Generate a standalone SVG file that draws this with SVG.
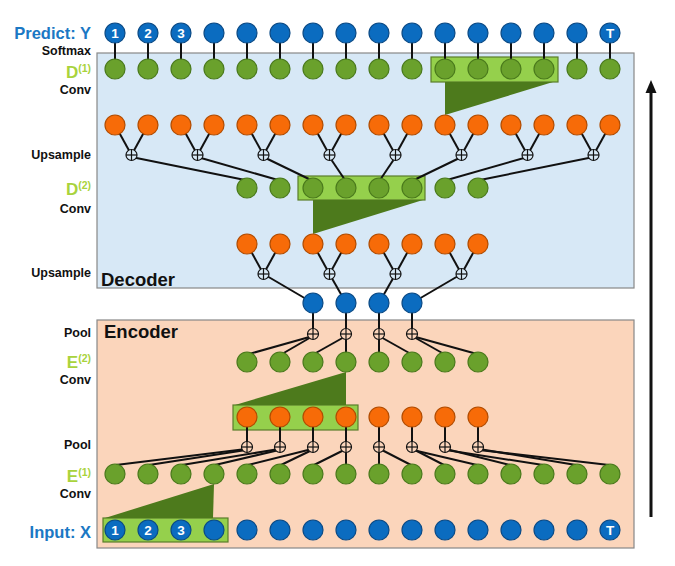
<svg xmlns="http://www.w3.org/2000/svg" width="675" height="566" viewBox="0 0 675 566">
<style>
text{font-family:"Liberation Sans",Arial,sans-serif;font-weight:bold}
.lbl{font-size:12.5px;fill:#111;text-anchor:end}
.io{font-size:16.5px;fill:#1b78c4;text-anchor:end}
.lay{font-size:17px;fill:#a9d33c;text-anchor:end}
.sup{font-size:10.5px}
.title{font-size:18.5px;fill:#111}
.num{font-size:13.5px;fill:#fff;text-anchor:middle}
.b{fill:#0b6cc0;stroke:#0a4a86;stroke-width:1.2}
.g{fill:#6aa12c;stroke:#4a7a1c;stroke-width:1.2}
.o{fill:#f76b08;stroke:#b24c00;stroke-width:1.2}
.pd{fill:#d8e9f6;stroke:#111;stroke-width:1.2}
.pe{fill:#fbd5bb;stroke:#111;stroke-width:1.2}
.box{fill:#95d04c;stroke:#5a7d2a;stroke-width:1.2}
.tri{fill:#4d7a1c}
#connectors line{stroke:#111;stroke-width:2}
</style>
<defs>
<g id="plus"><line x1="-5.5" y1="0" x2="5.5" y2="0" stroke="#111" stroke-width="1.2"/><line x1="0" y1="-5.5" x2="0" y2="5.5" stroke="#111" stroke-width="1.2"/></g>
</defs>

<!-- panels -->
<rect id="decoder-panel" x="97" y="53" width="537" height="235" fill="#d7e8f6" stroke="#888" stroke-width="1.2"/>
<rect id="encoder-panel" x="97" y="320" width="537" height="228" fill="#fbd5bb" stroke="#888" stroke-width="1.2"/>
<text class="title" x="101" y="286">Decoder</text>
<text class="title" x="104" y="338">Encoder</text>

<!-- labels -->
<text class="io" x="91" y="39">Predict: Y</text>
<text class="lbl" x="91" y="55">Softmax</text>
<text class="lay" x="91" y="78">D<tspan class="sup" dy="-6">(1)</tspan></text>
<text class="lbl" x="91" y="94">Conv</text>
<text class="lbl" x="91" y="159">Upsample</text>
<text class="lay" x="91" y="195">D<tspan class="sup" dy="-6">(2)</tspan></text>
<text class="lbl" x="91" y="213">Conv</text>
<text class="lbl" x="91" y="277">Upsample</text>
<text class="lbl" x="91" y="337">Pool</text>
<text class="lay" x="91" y="368">E<tspan class="sup" dy="-6">(2)</tspan></text>
<text class="lbl" x="91" y="384">Conv</text>
<text class="lbl" x="91" y="449">Pool</text>
<text class="lay" x="91" y="482">E<tspan class="sup" dy="-6">(1)</tspan></text>
<text class="lbl" x="91" y="498">Conv</text>
<text class="io" x="91" y="538">Input: X</text>

<!-- conv windows -->
<g id="conv-d1"><rect class="box" x="431" y="57" width="127" height="25"/><polygon class="tri" points="445,82 553,82 445,115"/></g>
<g id="conv-d2"><rect class="box" x="298" y="176" width="127" height="24"/><polygon class="tri" points="313,200 423,200 313,234"/></g>
<g id="conv-e2"><rect class="box" x="233" y="405" width="125" height="25"/><polygon class="tri" points="235,405 346,405 346,372"/></g>
<g id="conv-e1"><rect class="box" x="103" y="518" width="125" height="24"/><polygon class="tri" points="105,518 213,518 214,484"/></g>

<!-- arrow -->
<g id="arrow"><line x1="651" y1="517" x2="651" y2="92" stroke="#111" stroke-width="3"/><polygon points="651,80 645.5,93 656.5,93" fill="#111"/></g>

<g id="connectors">
<!-- Y - D1 -->
<line x1="115" y1="33" x2="115" y2="69"/><line x1="148" y1="33" x2="148" y2="69"/><line x1="181" y1="33" x2="181" y2="69"/><line x1="214" y1="33" x2="214" y2="69"/>
<line x1="247" y1="33" x2="247" y2="69"/><line x1="280" y1="33" x2="280" y2="69"/><line x1="313" y1="33" x2="313" y2="69"/><line x1="346" y1="33" x2="346" y2="69"/>
<line x1="379" y1="33" x2="379" y2="69"/><line x1="412" y1="33" x2="412" y2="69"/><line x1="445" y1="33" x2="445" y2="69"/><line x1="478" y1="33" x2="478" y2="69"/>
<line x1="511" y1="33" x2="511" y2="69"/><line x1="544" y1="33" x2="544" y2="69"/><line x1="577" y1="33" x2="577" y2="69"/><line x1="610" y1="33" x2="610" y2="69"/>
<!-- O1 - P1 -->
<line x1="115" y1="125" x2="131.5" y2="155"/><line x1="148" y1="125" x2="131.5" y2="155"/>
<line x1="181" y1="125" x2="197.5" y2="155"/><line x1="214" y1="125" x2="197.5" y2="155"/>
<line x1="247" y1="125" x2="263.5" y2="155"/><line x1="280" y1="125" x2="263.5" y2="155"/>
<line x1="313" y1="125" x2="329.5" y2="155"/><line x1="346" y1="125" x2="329.5" y2="155"/>
<line x1="379" y1="125" x2="395.5" y2="155"/><line x1="412" y1="125" x2="395.5" y2="155"/>
<line x1="445" y1="125" x2="461.5" y2="155"/><line x1="478" y1="125" x2="461.5" y2="155"/>
<line x1="511" y1="125" x2="527.5" y2="155"/><line x1="544" y1="125" x2="527.5" y2="155"/>
<line x1="577" y1="125" x2="593.5" y2="155"/><line x1="610" y1="125" x2="593.5" y2="155"/>
<!-- P1 - D2 -->
<line x1="131.5" y1="157" x2="245" y2="180"/><line x1="197.5" y1="157" x2="278" y2="180"/>
<line x1="263.5" y1="157" x2="311" y2="180"/><line x1="329.5" y1="157" x2="345" y2="180"/>
<line x1="395.5" y1="157" x2="380" y2="180"/><line x1="461.5" y1="157" x2="414" y2="180"/>
<line x1="527.5" y1="157" x2="447" y2="180"/><line x1="593.5" y1="157" x2="480" y2="180"/>
<!-- O2 - P2 -->
<line x1="247" y1="244" x2="263.5" y2="274"/><line x1="280" y1="244" x2="263.5" y2="274"/>
<line x1="313" y1="244" x2="329.5" y2="274"/><line x1="346" y1="244" x2="329.5" y2="274"/>
<line x1="379" y1="244" x2="395.5" y2="274"/><line x1="412" y1="244" x2="395.5" y2="274"/>
<line x1="445" y1="244" x2="461.5" y2="274"/><line x1="478" y1="244" x2="461.5" y2="274"/>
<!-- P2 - B -->
<line x1="263.5" y1="274" x2="313" y2="303"/><line x1="329.5" y1="274" x2="346" y2="303"/>
<line x1="395.5" y1="274" x2="379" y2="303"/><line x1="461.5" y1="274" x2="412" y2="303"/>
<!-- B - Q2 -->
<line x1="313" y1="303" x2="313" y2="334"/><line x1="346" y1="303" x2="346" y2="334"/>
<line x1="379" y1="303" x2="379" y2="334"/><line x1="412" y1="303" x2="412" y2="334"/>
<!-- Q2 - E2 -->
<line x1="313" y1="336" x2="249" y2="354"/><line x1="313" y1="336" x2="282" y2="354"/>
<line x1="346" y1="336" x2="314" y2="354"/><line x1="346" y1="334" x2="346" y2="362"/>
<line x1="379" y1="334" x2="379" y2="362"/><line x1="379" y1="336" x2="411" y2="354"/>
<line x1="412" y1="336" x2="444" y2="354"/><line x1="412" y1="336" x2="477" y2="354"/>
<!-- O3 - Q1 -->
<line x1="247" y1="417" x2="247" y2="447"/><line x1="280" y1="417" x2="280" y2="447"/>
<line x1="313" y1="417" x2="313" y2="447"/><line x1="346" y1="417" x2="346" y2="447"/>
<line x1="379" y1="417" x2="379" y2="447"/><line x1="412" y1="417" x2="412" y2="447"/>
<line x1="445" y1="417" x2="445" y2="447"/><line x1="478" y1="417" x2="478" y2="447"/>
<!-- Q1 - E1 -->
<line x1="246" y1="449" x2="116" y2="465"/><line x1="246" y1="450" x2="149" y2="465"/>
<line x1="279" y1="449" x2="182" y2="465"/><line x1="279" y1="450" x2="215" y2="465"/>
<line x1="312" y1="449" x2="248" y2="465"/><line x1="312" y1="450" x2="281" y2="465"/>
<line x1="346" y1="449" x2="314" y2="465"/><line x1="346" y1="447" x2="346" y2="474"/>
<line x1="379" y1="447" x2="379" y2="474"/><line x1="380" y1="449" x2="411" y2="465"/>
<line x1="413" y1="449" x2="444" y2="465"/><line x1="413" y1="450" x2="477" y2="465"/>
<line x1="446" y1="449" x2="510" y2="465"/><line x1="446" y1="450" x2="543" y2="465"/>
<line x1="479" y1="449" x2="576" y2="465"/><line x1="479" y1="450" x2="609" y2="465"/>
</g>

<!-- Predict row -->
<g id="y1"><circle class="b" cx="115" cy="33" r="10"/><text class="num" x="115" y="38">1</text></g>
<g id="y2"><circle class="b" cx="148" cy="33" r="10"/><text class="num" x="148" y="38">2</text></g>
<g id="y3"><circle class="b" cx="181" cy="33" r="10"/><text class="num" x="181" y="38">3</text></g>
<g id="y4"><circle class="b" cx="214" cy="33" r="10"/></g>
<g id="y5"><circle class="b" cx="247" cy="33" r="10"/></g>
<g id="y6"><circle class="b" cx="280" cy="33" r="10"/></g>
<g id="y7"><circle class="b" cx="313" cy="33" r="10"/></g>
<g id="y8"><circle class="b" cx="346" cy="33" r="10"/></g>
<g id="y9"><circle class="b" cx="379" cy="33" r="10"/></g>
<g id="y10"><circle class="b" cx="412" cy="33" r="10"/></g>
<g id="y11"><circle class="b" cx="445" cy="33" r="10"/></g>
<g id="y12"><circle class="b" cx="478" cy="33" r="10"/></g>
<g id="y13"><circle class="b" cx="511" cy="33" r="10"/></g>
<g id="y14"><circle class="b" cx="544" cy="33" r="10"/></g>
<g id="y15"><circle class="b" cx="577" cy="33" r="10"/></g>
<g id="yT"><circle class="b" cx="610" cy="33" r="10"/><text class="num" x="610" y="38">T</text></g>

<!-- D1 row -->
<g id="d1-1"><circle class="g" cx="115" cy="69" r="10"/></g>
<g id="d1-2"><circle class="g" cx="148" cy="69" r="10"/></g>
<g id="d1-3"><circle class="g" cx="181" cy="69" r="10"/></g>
<g id="d1-4"><circle class="g" cx="214" cy="69" r="10"/></g>
<g id="d1-5"><circle class="g" cx="247" cy="69" r="10"/></g>
<g id="d1-6"><circle class="g" cx="280" cy="69" r="10"/></g>
<g id="d1-7"><circle class="g" cx="313" cy="69" r="10"/></g>
<g id="d1-8"><circle class="g" cx="346" cy="69" r="10"/></g>
<g id="d1-9"><circle class="g" cx="379" cy="69" r="10"/></g>
<g id="d1-10"><circle class="g" cx="412" cy="69" r="10"/></g>
<g id="d1-11"><circle class="g" cx="445" cy="69" r="10"/></g>
<g id="d1-12"><circle class="g" cx="478" cy="69" r="10"/></g>
<g id="d1-13"><circle class="g" cx="511" cy="69" r="10"/></g>
<g id="d1-14"><circle class="g" cx="544" cy="69" r="10"/></g>
<g id="d1-15"><circle class="g" cx="577" cy="69" r="10"/></g>
<g id="d1-16"><circle class="g" cx="610" cy="69" r="10"/></g>

<!-- Upsample 1 orange -->
<g id="u1-1"><circle class="o" cx="115" cy="125" r="10"/></g>
<g id="u1-2"><circle class="o" cx="148" cy="125" r="10"/></g>
<g id="u1-3"><circle class="o" cx="181" cy="125" r="10"/></g>
<g id="u1-4"><circle class="o" cx="214" cy="125" r="10"/></g>
<g id="u1-5"><circle class="o" cx="247" cy="125" r="10"/></g>
<g id="u1-6"><circle class="o" cx="280" cy="125" r="10"/></g>
<g id="u1-7"><circle class="o" cx="313" cy="125" r="10"/></g>
<g id="u1-8"><circle class="o" cx="346" cy="125" r="10"/></g>
<g id="u1-9"><circle class="o" cx="379" cy="125" r="10"/></g>
<g id="u1-10"><circle class="o" cx="412" cy="125" r="10"/></g>
<g id="u1-11"><circle class="o" cx="445" cy="125" r="10"/></g>
<g id="u1-12"><circle class="o" cx="478" cy="125" r="10"/></g>
<g id="u1-13"><circle class="o" cx="511" cy="125" r="10"/></g>
<g id="u1-14"><circle class="o" cx="544" cy="125" r="10"/></g>
<g id="u1-15"><circle class="o" cx="577" cy="125" r="10"/></g>
<g id="u1-16"><circle class="o" cx="610" cy="125" r="10"/></g>

<!-- Upsample 1 plus -->
<g id="p1-1"><circle class="pd" cx="131.5" cy="155" r="5.5"/><use href="#plus" x="131.5" y="155"/></g>
<g id="p1-2"><circle class="pd" cx="197.5" cy="155" r="5.5"/><use href="#plus" x="197.5" y="155"/></g>
<g id="p1-3"><circle class="pd" cx="263.5" cy="155" r="5.5"/><use href="#plus" x="263.5" y="155"/></g>
<g id="p1-4"><circle class="pd" cx="329.5" cy="155" r="5.5"/><use href="#plus" x="329.5" y="155"/></g>
<g id="p1-5"><circle class="pd" cx="395.5" cy="155" r="5.5"/><use href="#plus" x="395.5" y="155"/></g>
<g id="p1-6"><circle class="pd" cx="461.5" cy="155" r="5.5"/><use href="#plus" x="461.5" y="155"/></g>
<g id="p1-7"><circle class="pd" cx="527.5" cy="155" r="5.5"/><use href="#plus" x="527.5" y="155"/></g>
<g id="p1-8"><circle class="pd" cx="593.5" cy="155" r="5.5"/><use href="#plus" x="593.5" y="155"/></g>

<!-- D2 row -->
<g id="d2-1"><circle class="g" cx="247" cy="188" r="10"/></g>
<g id="d2-2"><circle class="g" cx="280" cy="188" r="10"/></g>
<g id="d2-3"><circle class="g" cx="313" cy="188" r="10"/></g>
<g id="d2-4"><circle class="g" cx="346" cy="188" r="10"/></g>
<g id="d2-5"><circle class="g" cx="379" cy="188" r="10"/></g>
<g id="d2-6"><circle class="g" cx="412" cy="188" r="10"/></g>
<g id="d2-7"><circle class="g" cx="445" cy="188" r="10"/></g>
<g id="d2-8"><circle class="g" cx="478" cy="188" r="10"/></g>

<!-- Upsample 2 orange -->
<g id="u2-1"><circle class="o" cx="247" cy="244" r="10"/></g>
<g id="u2-2"><circle class="o" cx="280" cy="244" r="10"/></g>
<g id="u2-3"><circle class="o" cx="313" cy="244" r="10"/></g>
<g id="u2-4"><circle class="o" cx="346" cy="244" r="10"/></g>
<g id="u2-5"><circle class="o" cx="379" cy="244" r="10"/></g>
<g id="u2-6"><circle class="o" cx="412" cy="244" r="10"/></g>
<g id="u2-7"><circle class="o" cx="445" cy="244" r="10"/></g>
<g id="u2-8"><circle class="o" cx="478" cy="244" r="10"/></g>

<g id="p2-1"><circle class="pd" cx="263.5" cy="274" r="5.5"/><use href="#plus" x="263.5" y="274"/></g>
<g id="p2-2"><circle class="pd" cx="329.5" cy="274" r="5.5"/><use href="#plus" x="329.5" y="274"/></g>
<g id="p2-3"><circle class="pd" cx="395.5" cy="274" r="5.5"/><use href="#plus" x="395.5" y="274"/></g>
<g id="p2-4"><circle class="pd" cx="461.5" cy="274" r="5.5"/><use href="#plus" x="461.5" y="274"/></g>

<!-- bottleneck -->
<g id="m1"><circle class="b" cx="313" cy="303" r="10"/></g>
<g id="m2"><circle class="b" cx="346" cy="303" r="10"/></g>
<g id="m3"><circle class="b" cx="379" cy="303" r="10"/></g>
<g id="m4"><circle class="b" cx="412" cy="303" r="10"/></g>

<!-- Pool 2 -->
<g id="q2-1"><circle class="pe" cx="313" cy="334" r="5.5"/><use href="#plus" x="313" y="334"/></g>
<g id="q2-2"><circle class="pe" cx="346" cy="334" r="5.5"/><use href="#plus" x="346" y="334"/></g>
<g id="q2-3"><circle class="pe" cx="379" cy="334" r="5.5"/><use href="#plus" x="379" y="334"/></g>
<g id="q2-4"><circle class="pe" cx="412" cy="334" r="5.5"/><use href="#plus" x="412" y="334"/></g>

<!-- E2 row -->
<g id="e2-1"><circle class="g" cx="247" cy="362" r="10"/></g>
<g id="e2-2"><circle class="g" cx="280" cy="362" r="10"/></g>
<g id="e2-3"><circle class="g" cx="313" cy="362" r="10"/></g>
<g id="e2-4"><circle class="g" cx="346" cy="362" r="10"/></g>
<g id="e2-5"><circle class="g" cx="379" cy="362" r="10"/></g>
<g id="e2-6"><circle class="g" cx="412" cy="362" r="10"/></g>
<g id="e2-7"><circle class="g" cx="445" cy="362" r="10"/></g>
<g id="e2-8"><circle class="g" cx="478" cy="362" r="10"/></g>

<!-- encoder orange -->
<g id="o3-1"><circle class="o" cx="247" cy="417" r="10"/></g>
<g id="o3-2"><circle class="o" cx="280" cy="417" r="10"/></g>
<g id="o3-3"><circle class="o" cx="313" cy="417" r="10"/></g>
<g id="o3-4"><circle class="o" cx="346" cy="417" r="10"/></g>
<g id="o3-5"><circle class="o" cx="379" cy="417" r="10"/></g>
<g id="o3-6"><circle class="o" cx="412" cy="417" r="10"/></g>
<g id="o3-7"><circle class="o" cx="445" cy="417" r="10"/></g>
<g id="o3-8"><circle class="o" cx="478" cy="417" r="10"/></g>

<!-- Pool 1 -->
<g id="q1-1"><circle class="pe" cx="247" cy="447" r="5.5"/><use href="#plus" x="247" y="447"/></g>
<g id="q1-2"><circle class="pe" cx="280" cy="447" r="5.5"/><use href="#plus" x="280" y="447"/></g>
<g id="q1-3"><circle class="pe" cx="313" cy="447" r="5.5"/><use href="#plus" x="313" y="447"/></g>
<g id="q1-4"><circle class="pe" cx="346" cy="447" r="5.5"/><use href="#plus" x="346" y="447"/></g>
<g id="q1-5"><circle class="pe" cx="379" cy="447" r="5.5"/><use href="#plus" x="379" y="447"/></g>
<g id="q1-6"><circle class="pe" cx="412" cy="447" r="5.5"/><use href="#plus" x="412" y="447"/></g>
<g id="q1-7"><circle class="pe" cx="445" cy="447" r="5.5"/><use href="#plus" x="445" y="447"/></g>
<g id="q1-8"><circle class="pe" cx="478" cy="447" r="5.5"/><use href="#plus" x="478" y="447"/></g>

<!-- E1 row -->
<g id="e1-1"><circle class="g" cx="115" cy="474" r="10"/></g>
<g id="e1-2"><circle class="g" cx="148" cy="474" r="10"/></g>
<g id="e1-3"><circle class="g" cx="181" cy="474" r="10"/></g>
<g id="e1-4"><circle class="g" cx="214" cy="474" r="10"/></g>
<g id="e1-5"><circle class="g" cx="247" cy="474" r="10"/></g>
<g id="e1-6"><circle class="g" cx="280" cy="474" r="10"/></g>
<g id="e1-7"><circle class="g" cx="313" cy="474" r="10"/></g>
<g id="e1-8"><circle class="g" cx="346" cy="474" r="10"/></g>
<g id="e1-9"><circle class="g" cx="379" cy="474" r="10"/></g>
<g id="e1-10"><circle class="g" cx="412" cy="474" r="10"/></g>
<g id="e1-11"><circle class="g" cx="445" cy="474" r="10"/></g>
<g id="e1-12"><circle class="g" cx="478" cy="474" r="10"/></g>
<g id="e1-13"><circle class="g" cx="511" cy="474" r="10"/></g>
<g id="e1-14"><circle class="g" cx="544" cy="474" r="10"/></g>
<g id="e1-15"><circle class="g" cx="577" cy="474" r="10"/></g>
<g id="e1-16"><circle class="g" cx="610" cy="474" r="10"/></g>

<!-- Input row -->
<g id="x1"><circle class="b" cx="115" cy="530" r="10"/><text class="num" x="115" y="535">1</text></g>
<g id="x2"><circle class="b" cx="148" cy="530" r="10"/><text class="num" x="148" y="535">2</text></g>
<g id="x3"><circle class="b" cx="181" cy="530" r="10"/><text class="num" x="181" y="535">3</text></g>
<g id="x4"><circle class="b" cx="214" cy="530" r="10"/></g>
<g id="x5"><circle class="b" cx="247" cy="530" r="10"/></g>
<g id="x6"><circle class="b" cx="280" cy="530" r="10"/></g>
<g id="x7"><circle class="b" cx="313" cy="530" r="10"/></g>
<g id="x8"><circle class="b" cx="346" cy="530" r="10"/></g>
<g id="x9"><circle class="b" cx="379" cy="530" r="10"/></g>
<g id="x10"><circle class="b" cx="412" cy="530" r="10"/></g>
<g id="x11"><circle class="b" cx="445" cy="530" r="10"/></g>
<g id="x12"><circle class="b" cx="478" cy="530" r="10"/></g>
<g id="x13"><circle class="b" cx="511" cy="530" r="10"/></g>
<g id="x14"><circle class="b" cx="544" cy="530" r="10"/></g>
<g id="x15"><circle class="b" cx="577" cy="530" r="10"/></g>
<g id="xT"><circle class="b" cx="610" cy="530" r="10"/><text class="num" x="610" y="535">T</text></g>
</svg>
